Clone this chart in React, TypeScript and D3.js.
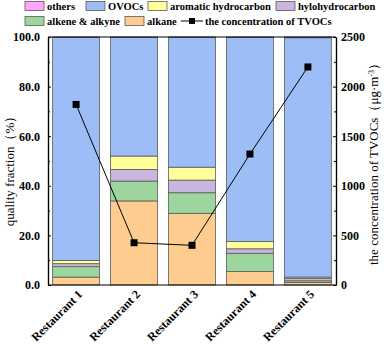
import { useEffect, useRef } from "react";
import * as d3 from "d3";

const restaurants = ["Restaurant 1", "Restaurant 2", "Restaurant 3", "Restaurant 4", "Restaurant 5"];
const alkane = [3.2, 33.9, 28.9, 5.4, 1.0];
const alkene = [4.2, 8.0, 8.3, 7.4, 0.7];
const hylo = [1.2, 4.7, 5.1, 1.8, 0.9];
const aromatic = [1.3, 5.4, 5.2, 2.9, 0.6];
const others = [0.2, 0.2, 0.2, 0.2, 0.3];
const ovocs = [89.9, 47.8, 52.3, 82.3, 96.5];
const tvoc = [1820, 426, 400, 1320, 2198];

const leftTicks = [0, 20, 40, 60, 80, 100];
const rightTicks = [0, 500, 1000, 1500, 2000, 2500];

const seriesNames = ["alkane", "alkene & alkyne", "hylohydrocarbon", "aromatic hydrocarbon", "OVOCs", "others"];
const seriesValues = [alkane, alkene, hylo, aromatic, ovocs, others];
const colors: Record<string, string> = {
  "others": "#ffa6ff",
  "OVOCs": "#9dbdf6",
  "aromatic hydrocarbon": "#ffff99",
  "hylohydrocarbon": "#c9b5dd",
  "alkene & alkyne": "#9cd69c",
  "alkane": "#ffcc90",
};

const FONT = "'Liberation Serif', 'Times New Roman', serif";

export default function App() {
  const ref = useRef<SVGSVGElement>(null);

  useEffect(() => {
    const svg = d3.select(ref.current);
    svg.selectAll("*").remove();
    const W = 387, H = 345;
    const left = 48, right = 336, top = 37, bottom = 285;

    const x = d3.scaleBand().domain(restaurants).range([left, right]).paddingInner(0.19).paddingOuter(0.08);
    const y = d3.scaleLinear().domain([0, 100]).range([bottom, top]);
    const y2 = d3.scaleLinear().domain([0, 2500]).range([bottom, top]);

    svg.append("rect").attr("width", W).attr("height", H).attr("fill", "#fff");

    // stacked bars
    const table = restaurants.map((r, i) => {
      const row: any = { r };
      seriesNames.forEach((n, k) => (row[n] = seriesValues[k][i]));
      return row;
    });
    const stack = d3.stack().keys(seriesNames)(table);
    stack.forEach((layer) => {
      svg.append("g").selectAll("rect").data(layer).enter().append("rect")
        .attr("x", (d: any) => x(d.data.r)!)
        .attr("width", x.bandwidth())
        .attr("y", (d) => y(d[1]))
        .attr("height", (d) => y(d[0]) - y(d[1]))
        .attr("fill", colors[layer.key])
        .attr("stroke", "#5a5a5a")
        .attr("stroke-width", 0.8);
    });

    // axes frame
    const gL = svg.append("g").attr("transform", `translate(${left},0)`);
    gL.call(d3.axisLeft(y).tickValues(leftTicks).tickSizeInner(-3).tickSizeOuter(0).tickFormat(d3.format(".1f")) as any);
    gL.append("g").call(d3.axisLeft(y).tickValues([10, 30, 50, 70, 90]).tickSizeInner(-2).tickSizeOuter(0).tickFormat(() => "") as any);
    const gR = svg.append("g").attr("transform", `translate(${right},0)`);
    gR.call(d3.axisRight(y2).tickValues(rightTicks).tickSizeInner(-3).tickSizeOuter(0).tickFormat(d3.format("d")) as any);
    gR.append("g").call(d3.axisRight(y2).tickValues([250, 750, 1250, 1750, 2250]).tickSizeInner(-2).tickSizeOuter(0).tickFormat(() => "") as any);
    svg.selectAll(".domain").attr("stroke", "#000").attr("stroke-width", 1.2);
    svg.selectAll(".tick line").attr("stroke", "#000");
    svg.selectAll(".tick text").attr("font-family", FONT).attr("font-weight", "bold").attr("font-size", 12).attr("fill", "#000");
    gL.selectAll(".tick text").attr("x", -8);
    gR.selectAll(".tick text").attr("x", 5);
    svg.append("line").attr("x1", left).attr("x2", right).attr("y1", bottom).attr("y2", bottom).attr("stroke", "#000").attr("stroke-width", 1.2);
    svg.append("line").attr("x1", left).attr("x2", right).attr("y1", top).attr("y2", top).attr("stroke", "#000").attr("stroke-width", 1.2);

    // x labels
    restaurants.forEach((r) => {
      const cx = x(r)! + x.bandwidth() / 2 + 7;
      svg.append("text").attr("transform", `translate(${cx},${bottom + 10}) rotate(-45)`)
        .attr("text-anchor", "end").attr("font-family", FONT).attr("font-weight", "bold").attr("font-size", 12)
        .text(r);
    });

    // axis titles
    svg.append("text").attr("transform", `translate(14,168) rotate(-90)`)
      .attr("text-anchor", "middle").attr("font-family", FONT).attr("font-size", 13).text("quality fraction（%）");
    const t2 = svg.append("text").attr("transform", `translate(378,${(top + bottom) / 2}) rotate(-90)`)
      .attr("text-anchor", "middle").attr("font-family", FONT).attr("font-size", 13);
    t2.append("tspan").text("the concentration of  TVOCs（μg·m");
    t2.append("tspan").attr("dy", -4).attr("font-size", 8).text("-3");
    t2.append("tspan").attr("dy", 4).text("）");

    // line
    const line = d3.line<number>().x((_, i) => x(restaurants[i])! + x.bandwidth() / 2).y((d) => y2(d));
    svg.append("path").datum(tvoc).attr("d", line).attr("fill", "none").attr("stroke", "#000").attr("stroke-width", 1);
    svg.append("g").selectAll("rect").data(tvoc).enter().append("rect")
      .attr("x", (_, i) => x(restaurants[i])! + x.bandwidth() / 2 - 3.5)
      .attr("y", (d) => y2(d) - 3.5).attr("width", 7).attr("height", 7).attr("fill", "#000");

    // legend
    const leg = svg.append("g").attr("font-family", FONT).attr("font-weight", "bold").attr("font-size", 10.5);
    const items: [string, number, number][] = [
      ["others", 25, 6], ["OVOCs", 86, 6], ["aromatic hydrocarbon", 148, 6], ["hylohydrocarbon", 276, 6],
      ["alkene & alkyne", 25, 21], ["alkane", 125, 21],
    ];
    items.forEach(([n, lx, ly]) => {
      leg.append("rect").attr("x", lx).attr("y", ly - 4.5).attr("width", 19).attr("height", 9)
        .attr("fill", colors[n]).attr("stroke", "#5a5a5a").attr("stroke-width", 0.8);
      leg.append("text").attr("x", lx + 22).attr("y", ly + 4).text(n);
    });
    leg.append("line").attr("x1", 181).attr("x2", 203).attr("y1", 21).attr("y2", 21).attr("stroke", "#000");
    leg.append("rect").attr("x", 189).attr("y", 18).attr("width", 6).attr("height", 6).attr("fill", "#000");
    leg.append("text").attr("x", 205).attr("y", 25).text("the concentration of TVOCs");
  }, []);

  return <svg ref={ref} width={387} height={345} style={{ position: "absolute", left: 0, top: 0 }} />;
}
